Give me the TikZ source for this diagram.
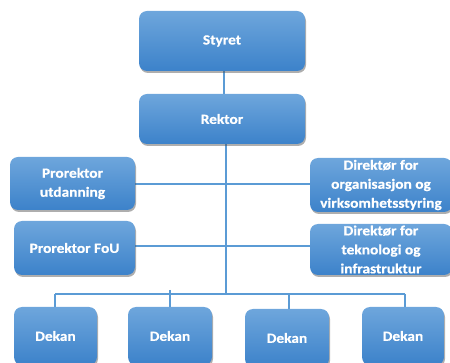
\documentclass[tikz,border=0pt]{standalone}
\usepackage{fontspec}
\newfontfamily\boxfont[FakeStretch=1.1,FakeBold=0.6]{Carlito Bold}
\usetikzlibrary{shadows}
\definecolor{boxtop}{HTML}{6EA6DC}
\definecolor{boxbot}{HTML}{3C82CA}
\definecolor{linec}{HTML}{5B9BD5}
\tikzset{
  orgbox/.style={rectangle, rounded corners=8pt, inner sep=0pt,
    top color=boxtop, bottom color=boxbot, draw=none,
    drop shadow={shadow xshift=1pt, shadow yshift=-2pt, opacity=0.45, fill=black!70},
    text=white, align=center,
    font=\boxfont\fontsize{14}{19}\selectfont},
  conn/.style={draw=linec, line width=1.6pt}
}
\begin{document}
\begin{tikzpicture}[x=1pt,y=-1pt]
\useasboundingbox (0,0) rectangle (450,363);
\clip (0,0) rectangle (450,363);
% connectors first
\coordinate (c1) at (224,71);
\coordinate (c2) at (224,94);
\coordinate (t0) at (226,144);
\coordinate (t1) at (226,294);
\coordinate (h1a) at (135,184);
\coordinate (h1b) at (310,184);
\coordinate (h2a) at (135,246);
\coordinate (h2b) at (310,246);
\coordinate (b1) at (55,294);
\coordinate (b4) at (405,294);
\coordinate (b2) at (170,294);
\coordinate (b3) at (289,294);
\coordinate (b2t) at (170,290);
\coordinate (d1) at (55,307);
\coordinate (d2) at (170,307);
\coordinate (d3) at (289,309);
\coordinate (d4) at (405,307);
\draw[conn] (c1) -- (c2);
\draw[conn] (t0) -- (t1);
\draw[conn] (h1a) -- (h1b);
\draw[conn] (h2a) -- (h2b);
\draw[conn] (b1) -- (b4);
\draw[conn] (b1) -- (d1);
\draw[conn] (b2t) -- (d2);
\draw[conn] (b3) -- (d3);
\draw[conn] (b4) -- (d4);
% boxes
\node[orgbox, minimum width=166pt, minimum height=60pt] (styret) at (222,41) {Styret};
\node[orgbox, minimum width=166pt, minimum height=50pt] (rektor) at (222,119) {Rektor};
\node[orgbox, minimum width=125pt, minimum height=53pt] (pu) at (72.5,183.5) {Prorektor\\utdanning};
\node[orgbox, minimum width=142pt, minimum height=54pt] (dorg) at (381,185) {Direktør for\\organisasjon og\\virksomhetsstyring};
\node[orgbox, minimum width=121pt, minimum height=54pt] (pf) at (74.5,248) {Prorektor FoU};
\node[orgbox, minimum width=142pt, minimum height=51pt] (dtek) at (381,249.5) {Direktør for\\teknologi og\\infrastruktur};
\node[orgbox, minimum width=83pt, minimum height=58pt] (dek1) at (55.5,336) {Dekan};
\node[orgbox, minimum width=84pt, minimum height=58pt] (dek2) at (170,336) {Dekan};
\node[orgbox, minimum width=84pt, minimum height=58pt] (dek3) at (287,338) {Dekan};
\node[orgbox, minimum width=82pt, minimum height=58pt] (dek4) at (403,336) {Dekan};
\end{tikzpicture}
\end{document}
